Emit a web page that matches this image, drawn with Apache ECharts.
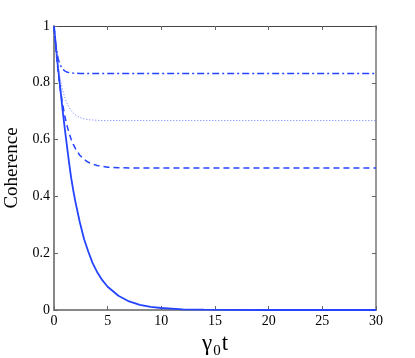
<!DOCTYPE html>
<html>
<head>
<meta charset="utf-8">
<script src="https://cdn.jsdelivr.net/npm/echarts@6/dist/echarts.min.js"></script>
<style>
  html, body { margin: 0; padding: 0; background: #fff; }
  #chart { width: 415px; height: 358px; }
</style>
</head>
<body>
<div id="chart"></div>
<script>
// time axis samples (gamma_0 t)
var times = [0, 0.1, 0.2, 0.3, 0.4, 0.5, 0.6, 0.8, 1, 1.2, 1.4, 1.6, 1.8, 2, 2.4, 2.8, 3.2, 3.6, 4, 4.5, 5, 6, 7, 8, 9, 10, 12, 14, 16, 20, 25, 30];
// coherence curves
var solidVals   = [1, 0.96, 0.92, 0.88, 0.845, 0.81, 0.775, 0.705, 0.64, 0.58, 0.52, 0.465, 0.42, 0.38, 0.31, 0.25, 0.205, 0.165, 0.135, 0.105, 0.082, 0.05, 0.03, 0.018, 0.011, 0.007, 0.0025, 0.001, 0.0003, 0, 0, 0];
var dashedVals  = [1, 0.952, 0.909, 0.87, 0.835, 0.803, 0.774, 0.725, 0.684, 0.651, 0.623, 0.601, 0.583, 0.568, 0.545, 0.53, 0.52, 0.514, 0.509, 0.506, 0.503, 0.501, 0.5, 0.5, 0.5, 0.5, 0.5, 0.5, 0.5, 0.5, 0.5, 0.5];
var dottedVals  = [1, 0.956, 0.919, 0.886, 0.857, 0.832, 0.811, 0.775, 0.749, 0.729, 0.714, 0.702, 0.693, 0.687, 0.678, 0.673, 0.67, 0.669, 0.668, 0.667, 0.667, 0.667, 0.667, 0.667, 0.667, 0.667, 0.667, 0.667, 0.667, 0.667, 0.667, 0.667];
var dashdotVals = [1, 0.957, 0.925, 0.901, 0.884, 0.871, 0.861, 0.848, 0.842, 0.838, 0.836, 0.835, 0.834, 0.834, 0.833, 0.833, 0.833, 0.833, 0.833, 0.833, 0.833, 0.833, 0.833, 0.833, 0.833, 0.833, 0.833, 0.833, 0.833, 0.833, 0.833, 0.833];

function pairs(vals) {
    return times.map(function (t, i) { return [t, vals[i]] })
}

var chart = echarts.init(document.getElementById('chart'))
var blue = '#2444ff'
var font = 'Liberation Serif'

var tickStyle = { show: true, inside: true, length: 4, lineStyle: { color: '#666', width: 1 } }

var option = {
    animation: false,
    grid: { left: 54, right: 39, top: 26, bottom: 48, show: false, outerBoundsMode: 'none', containLabel: false },
    xAxis: [
        {
            type: 'value', min: 0, max: 30, interval: 5,
            name: 'γ{sub|0}t',
            nameLocation: 'middle', nameGap: 18,
            nameTextStyle: {
                fontFamily: font, fontSize: 23, color: '#000',
                rich: { sub: { fontFamily: font, fontSize: 15, verticalAlign: 'bottom', padding: [14, 1, 0, 1], color: '#000' } }
            },
            axisLine: { show: true, onZero: false, lineStyle: { color: '#888', width: 2 } },
            axisTick: tickStyle,
            axisLabel: { fontFamily: font, fontSize: 14, color: '#000', margin: 4 },
            splitLine: { show: false }
        },
        {
            type: 'value', min: 0, max: 30, interval: 5, position: 'top',
            axisLine: { show: true, onZero: false, lineStyle: { color: '#444', width: 1 } },
            axisTick: tickStyle,
            axisLabel: { show: false },
            splitLine: { show: false }
        }
    ],
    yAxis: [
        {
            type: 'value', min: 0, max: 1, interval: 0.2,
            name: 'Coherence',
            nameLocation: 'middle', nameGap: 27,
            nameTextStyle: { fontFamily: font, fontSize: 19, color: '#000' },
            axisLine: { show: true, onZero: false, lineStyle: { color: '#888', width: 2 } },
            axisTick: tickStyle,
            axisLabel: {
                fontFamily: font, fontSize: 14, color: '#000', margin: 4,
                formatter: function (v) { return Math.round(v * 10) / 10 + '' }
            },
            splitLine: { show: false }
        },
        {
            type: 'value', min: 0, max: 1, interval: 0.2, position: 'right',
            axisLine: { show: true, onZero: false, lineStyle: { color: '#999', width: 2 } },
            axisTick: tickStyle,
            axisLabel: { show: false },
            splitLine: { show: false }
        }
    ],
    series: [
        {
            type: 'line', data: pairs(solidVals), showSymbol: false, smooth: false,
            lineStyle: { color: blue, width: 1.8, type: 'solid' }
        },
        {
            type: 'line', data: pairs(dashedVals), showSymbol: false, smooth: false,
            lineStyle: { color: blue, width: 1.5, type: [6, 4] }
        },
        {
            type: 'line', data: pairs(dottedVals), showSymbol: false, smooth: false,
            lineStyle: { color: '#6a78ff', width: 1, type: [1, 2] }
        },
        {
            type: 'line', data: pairs(dashdotVals), showSymbol: false, smooth: false,
            lineStyle: { color: blue, width: 1.4, type: [7, 3, 2, 3] }
        }
    ]
}
chart.setOption(option)
window.addEventListener('resize', chart.resize)
</script>
</body>
</html>
